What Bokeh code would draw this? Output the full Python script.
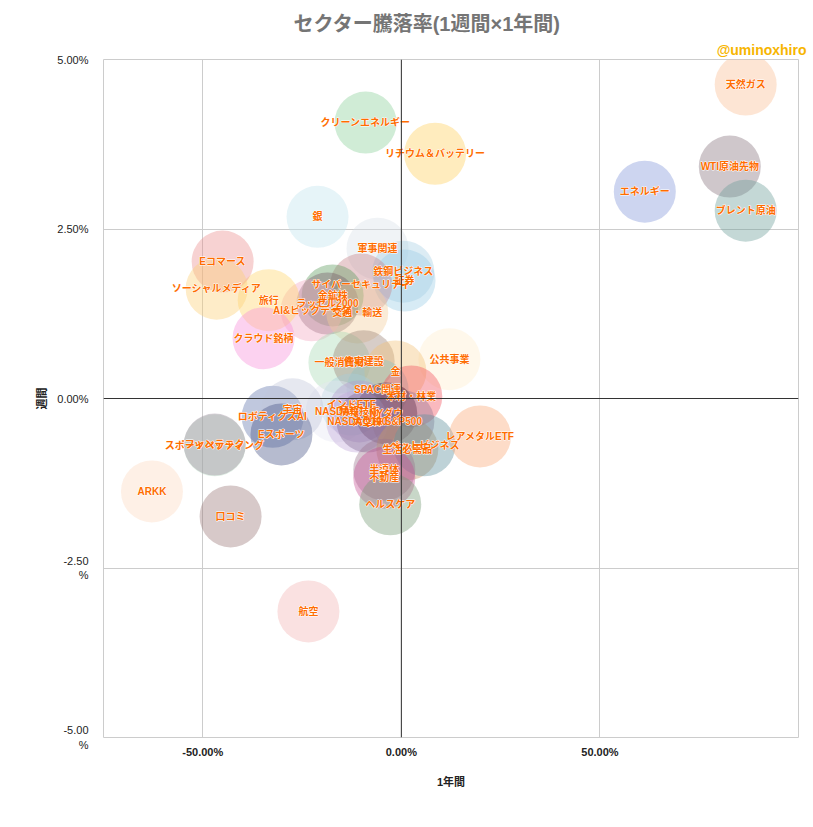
from bokeh.plotting import figure
from bokeh.models import FixedTicker, Span, Title, ColumnDataSource
from bokeh.core.properties import value
from bokeh.embed import file_html
from bokeh.resources import INLINE

# ---- data (1-year % change, 1-week % change) ----
names = ["天然ガス", "WTI原油先物", "ブレント原油", "エネルギー", "クリーンエネルギー",
         "リチウム＆バッテリー", "銀", "軍事関連", "鉄鋼ビジネス", "証券",
         "サイバーセキュリティ", "金鉱株", "ラッセル2000", "AI&ビッグデータ", "交通・輸送",
         "旅行", "Eコマース", "ソーシャルメディア", "クラウド銘柄", "一般消費財",
         "住宅建設", "公共事業", "金", "SPAC関連", "木材・林業",
         "インドETF", "NASDAQ", "情報技術", "NYダウ", "NASDAQ100",
         "大型株", "S&P500", "生活必需品", "ペットビジネス", "レアメタルETF",
         "半導体", "不動産", "ヘルスケア", "ロボティクスAI", "宇宙",
         "Eスポーツ", "スポーツベッティング", "フィンテック", "ARKK", "口コミ", "航空"]
year_chg = [86.7, 82.7, 86.7, 61.3, -9.0,
            8.5, -21.1, -6.0, 0.5, 0.8,
            -10.1, -17.3, -18.6, -22.6, -11.1,
            -33.4, -45.0, -46.5, -34.7, -15.6,
            -9.5, 12.1, -1.5, -6.0, 2.5,
            -12.6, -16.3, -10.6, -3.8, -11.1,
            -8.5, 0.5, 1.5, 5.8, 19.8,
            -4.3, -4.3, -2.8, -32.4, -27.4,
            -30.2, -47.0, -47.0, -62.8, -43.0, -23.4]
week_chg = [4.63, 3.42, 2.77, 3.05, 4.07,
            3.61, 2.68, 2.21, 1.87, 1.74,
            1.68, 1.52, 1.40, 1.30, 1.27,
            1.45, 2.02, 1.62, 0.89, 0.53,
            0.55, 0.58, 0.40, 0.13, 0.03,
            -0.09, -0.19, -0.19, -0.22, -0.34,
            -0.34, -0.34, -0.75, -0.69, -0.56,
            -1.05, -1.17, -1.56, -0.27, -0.16,
            -0.53, -0.69, -0.68, -1.37, -1.74, -3.14]

x_ticks = [-50, 0, 50]
y_ticks = [-5, -2.5, 0, 2.5, 5]
x_tick_labels = ["-50.00%", "0.00%", "50.00%"]
y_tick_labels = ["-5.00\n%", "-2.50\n%", "0.00%", "2.50%", "5.00%"]

# apparent (blended-on-white) bubble tints
tints = [(253, 229, 212), (207, 199, 203), (196, 216, 214), (205, 213, 240), (208, 236, 214),
         (255, 236, 190), (230, 244, 248), (240, 243, 246), (220, 236, 244), (215, 235, 245),
         (232, 205, 208), (190, 215, 190), (200, 190, 195), (250, 220, 230), (250, 235, 215),
         (255, 238, 195), (247, 210, 210), (254, 236, 200), (252, 210, 240), (220, 240, 225),
         (215, 205, 200), (255, 248, 235), (250, 230, 200), (210, 230, 230), (250, 185, 190),
         (220, 235, 240), (245, 245, 250), (225, 215, 235), (175, 155, 165), (230, 220, 240),
         (205, 195, 212), (212, 200, 212), (232, 212, 192), (190, 210, 215), (253, 220, 200),
         (215, 200, 210), (232, 185, 212), (200, 215, 200), (192, 200, 222), (230, 232, 240),
         (182, 187, 207), (225, 240, 230), (215, 208, 215), (254, 240, 230), (215, 201, 201),
         (250, 225, 225)]
ALPHA = 0.4


def base_color(t):
    c = [max(0, min(255, int(round(255 - (255 - v) / ALPHA)))) for v in t]
    return "#%02x%02x%02x" % tuple(c)


colors = [base_color(t) for t in tints]

src = ColumnDataSource(dict(x=year_chg, y=week_chg, name=names, color=colors))

FONT = "Liberation Sans, Noto Sans CJK JP"

p = figure(width=813, height=827, output_backend="svg", toolbar_location=None,
           x_range=(-75, 100), y_range=(-5, 5),
           min_border_left=103, min_border_right=15, min_border_top=59, min_border_bottom=90)
p.background_fill_color = "white"
p.border_fill_color = "white"
p.outline_line_color = "#cccccc"
p.outline_line_width = 1

p.xgrid.ticker = FixedTicker(ticks=x_ticks)
p.ygrid.ticker = FixedTicker(ticks=y_ticks)
p.xgrid.grid_line_color = "#cccccc"
p.ygrid.grid_line_color = "#cccccc"

p.add_layout(Span(location=0, dimension="height", line_color="#333333", line_width=1))
p.add_layout(Span(location=0, dimension="width", line_color="#333333", line_width=1))

p.xaxis.ticker = FixedTicker(ticks=x_ticks)
p.yaxis.ticker = FixedTicker(ticks=y_ticks)
p.xaxis.major_label_overrides = {t: l for t, l in zip(x_ticks, x_tick_labels)}
p.yaxis.major_label_overrides = {t: l for t, l in zip(y_ticks, y_tick_labels)}
for ax in (p.xaxis[0], p.yaxis[0]):
    ax.axis_line_color = None
    ax.major_tick_line_color = None
    ax.minor_tick_line_color = None
    ax.major_label_text_font = FONT
    ax.major_label_text_font_size = "11px"
    ax.major_label_text_color = "#222222"
    ax.axis_label_text_font = FONT
    ax.axis_label_text_font_size = "11px"
    ax.axis_label_text_font_style = "bold"
    ax.axis_label_text_color = "#222222"
p.xaxis.major_label_text_font_style = "bold"
p.xaxis.major_label_standoff = 2
p.yaxis.major_label_standoff = 9
p.xaxis.axis_label = "1年間"
p.yaxis.axis_label = "週間"
p.xaxis.axis_label_standoff = 15
p.yaxis.axis_label_standoff = 6

p.scatter("x", "y", source=src, size=62, fill_color="color", fill_alpha=ALPHA,
          line_color=None)

# white halo, then orange label on top
p.text("x", "y", text="name", source=src, text_align="center", text_baseline="middle",
       text_font=value(FONT), text_font_size="10px", text_font_style="bold",
       text_color="white", text_outline_color="white")
p.text("x", "y", text="name", source=src, text_align="center", text_baseline="middle",
       text_font=value(FONT), text_font_size="10px", text_font_style="bold",
       text_color="#ff6d00")

p.add_layout(Title(text="@uminoxhiro", align="right", text_font=FONT,
                   text_font_size="14px", text_font_style="bold",
                   text_color="#f7b500", offset=-8, standoff=4), "above")
p.add_layout(Title(text="セクター騰落率(1週間×1年間)", align="left", text_font=FONT,
                   text_font_size="20px", text_font_style="bold",
                   text_color="#757575", offset=190, standoff=6), "above")

open("out.html", "w").write(file_html(p, INLINE))
